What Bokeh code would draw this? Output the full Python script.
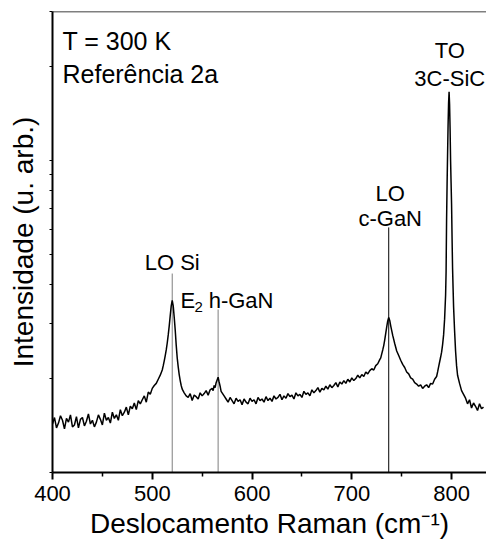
from bokeh.plotting import figure
from bokeh.models import Range1d, FixedTicker, Span
from bokeh.embed import file_html
from bokeh.resources import INLINE
from bokeh.core.properties import value

# Raman spectrum (shift in cm^-1, intensity in arbitrary units)
shift = [
    400, 402, 404, 406, 408, 410, 412, 414, 416, 418, 420, 422, 424, 426, 428,
    430, 432, 434, 436, 438, 440, 442, 444, 446, 448, 450, 452, 454, 456, 458,
    460, 462, 464, 466, 468, 470, 472, 474, 476, 478, 480, 482, 484, 486, 488,
    490, 492, 494, 496, 498, 500, 502, 504, 506, 508, 510,
    511, 512, 513, 514, 515, 516, 517, 518, 519, 520, 521, 522, 523, 524, 525,
    526, 527, 528, 529, 530,
    532, 534, 536, 538, 540, 542, 544, 546, 548, 550, 552, 554, 556, 558, 560,
    561, 562, 563, 564, 565, 566, 567, 568, 569, 570,
    572, 574, 576, 578, 580, 582, 584, 586, 588, 590, 592, 594, 596, 598, 600,
    602, 604, 606, 608, 610, 612, 614, 616, 618, 620, 622, 624, 626, 628, 630,
    632, 634, 636, 638, 640, 642, 644, 646, 648, 650, 652, 654, 656, 658, 660,
    662, 664, 666, 668, 670, 672, 674, 676, 678, 680, 682, 684, 686, 688, 690,
    692, 694, 696, 698, 700, 702, 704, 706, 708, 710, 712, 714, 716, 718, 720,
    722, 724, 726, 728,
    729, 730, 731, 732, 733, 734, 735, 736, 737, 738, 739, 740, 741, 742, 743,
    744, 745,
    747, 749, 751, 753, 755, 757, 759, 761, 763, 765, 767, 769, 771, 773, 775,
    777, 779, 781, 783, 785,
    786, 787, 788, 789, 790, 791, 792, 793, 794, 794.5, 795, 795.5, 796, 796.5,
    797, 797.5, 798, 798.5, 799, 799.5, 800, 800.5, 801, 801.5, 802, 803, 804,
    805, 806,
    808, 810, 812, 814, 816, 818, 820, 822, 824, 826, 828, 830, 832,
]
intensity = [
    1.43, 1.50, 1.39, 1.44, 1.52, 1.47, 1.38, 1.49, 1.45, 1.53, 1.40, 1.42, 1.51, 1.39, 1.48,
    1.50, 1.41, 1.46, 1.54, 1.43, 1.47, 1.40, 1.45, 1.53, 1.48, 1.42, 1.55, 1.47, 1.50, 1.44,
    1.56, 1.49, 1.53, 1.47, 1.59, 1.52, 1.56, 1.62, 1.53, 1.63, 1.60, 1.67, 1.59, 1.70, 1.66,
    1.71, 1.76, 1.68, 1.81, 1.78, 1.86, 1.90, 1.93, 1.99, 2.05, 2.13,
    2.20, 2.28, 2.37, 2.47, 2.60, 2.76, 2.95, 3.18, 3.42, 3.56, 3.42, 3.14, 2.86, 2.56, 2.33,
    2.18, 2.06, 1.97, 1.90, 1.85,
    1.80, 1.76, 1.74, 1.79, 1.70, 1.77, 1.75, 1.72, 1.80, 1.76, 1.79, 1.83, 1.77, 1.84, 1.86,
    1.83, 1.90, 1.87, 1.94, 1.98, 2.02, 1.95, 1.89, 1.82, 1.80,
    1.76, 1.72, 1.68, 1.74, 1.70, 1.66, 1.73, 1.69, 1.71, 1.65, 1.72, 1.68, 1.66, 1.73, 1.69,
    1.71, 1.66, 1.74, 1.70, 1.72, 1.68, 1.75, 1.70, 1.73, 1.69, 1.76, 1.72, 1.74, 1.78, 1.71,
    1.76, 1.73, 1.79, 1.75, 1.77, 1.72, 1.80, 1.76, 1.78, 1.74, 1.82, 1.78, 1.80, 1.76, 1.84,
    1.80, 1.83, 1.87, 1.81, 1.86, 1.84, 1.89, 1.85, 1.91, 1.87, 1.90, 1.94, 1.88, 1.95, 1.92,
    1.97, 1.93, 1.99, 1.95, 2.01, 1.97, 2.00, 2.05, 2.01, 2.06, 2.03, 2.10, 2.07, 2.12, 2.15,
    2.13, 2.20, 2.23, 2.30,
    2.33, 2.40, 2.47, 2.55, 2.66, 2.79, 2.93, 3.06, 3.14, 3.07, 2.95, 2.85, 2.75, 2.67, 2.59,
    2.52, 2.45,
    2.37, 2.29, 2.22, 2.17, 2.10, 2.07, 2.01, 1.99, 1.94, 1.92, 1.89, 1.91, 1.86, 1.89, 1.91,
    1.87, 1.93, 1.92, 1.99, 2.03,
    2.10, 2.18, 2.26, 2.34, 2.43, 2.57, 2.76, 3.10, 3.70, 4.40, 6.50, 8.40, 10.5, 13.0,
    15.3, 16.6, 15.1, 12.6, 10.0, 8.5, 7.2, 5.6, 4.5, 3.9, 3.4, 2.85, 2.45,
    2.20, 2.05,
    1.93, 1.83, 1.78, 1.73, 1.66, 1.71, 1.61, 1.67, 1.63, 1.58, 1.66, 1.60, 1.62,
]

# Reference lines for the assigned modes
mode_pos = [520, 566, 737]
mode_top = [4.34, 3.33, 6.10]
mode_color = ["#7f7f7f", "#7f7f7f", "#000000"]

x_ticks = [400, 500, 600, 700, 800]
x_minor = [450, 550, 650, 750]
y_ticks = [1, 10]
y_minor = [2, 3, 4, 5, 6, 7, 8, 9, 20, 30]

FONT = "Liberation Sans"

p = figure(
    frame_width=434, frame_height=461,
    x_range=Range1d(400, 835), y_range=Range1d(1, 30),
    y_axis_type="log",
    output_backend="svg", toolbar_location=None,
    min_border_left=52, min_border_right=0,
    min_border_top=11, min_border_bottom=69,
)
p.outline_line_color = None
p.xgrid.visible = False
p.ygrid.visible = False
p.background_fill_color = "white"
p.border_fill_color = "white"

# frame top edge
p.add_layout(Span(location=30, dimension="width", line_color="black", line_width=1.5))

p.segment(x0=mode_pos, y0=[1, 1, 1], x1=mode_pos, y1=mode_top,
          line_color=mode_color, line_width=1)
p.line(shift, intensity, line_color="black", line_width=1.5)

# x axis
xa = p.xaxis[0]
xa.ticker = FixedTicker(ticks=x_ticks, minor_ticks=x_minor)
xa.axis_line_width = 2
xa.major_tick_line_width = 2
xa.minor_tick_line_width = 1.5
xa.major_tick_out = 7
xa.major_tick_in = 0
xa.minor_tick_out = 4
xa.minor_tick_in = 0
xa.major_label_text_font = FONT
xa.major_label_text_font_size = "22px"
xa.major_label_text_color = "black"
xa.major_label_standoff = 6
xa.axis_label = "Deslocamento Raman (cm⁻¹)"
xa.axis_label_text_font = FONT
xa.axis_label_text_font_size = "28px"
xa.axis_label_text_font_style = "normal"
xa.axis_label_text_color = "black"
xa.axis_label_standoff = 4

# y axis (log, unlabelled ticks)
ya = p.yaxis[0]
ya.ticker = FixedTicker(ticks=y_ticks, minor_ticks=y_minor)
ya.axis_line_width = 2
ya.major_tick_out = 3
ya.major_tick_in = 0
ya.minor_tick_out = 3
ya.minor_tick_in = 0
ya.major_label_text_font_size = "1px"
ya.major_label_text_alpha = 0
ya.major_label_standoff = 0
ya.axis_label = "Intensidade (u. arb.)"
ya.axis_label_text_font = FONT
ya.axis_label_text_font_size = "28px"
ya.axis_label_text_font_style = "normal"
ya.axis_label_text_color = "black"
ya.axis_label_standoff = 11


def note(x, y, s, size="22px", align="center"):
    p.text(x=[x], y=[y], text=[s], text_font=value(FONT), text_font_size=size,
           text_align=align, text_baseline="alphabetic", text_color="black")


note(410, 24.1, "T = 300 K", size="25px", align="left")
note(410, 18.9, "Referência 2a", size="25px", align="left")
note(520, 4.71, "LO Si")
note(528.4, 3.56, "E", align="left")
note(542.4, 3.38, "2", size="15px", align="left")
note(556.5, 3.56, "h-GaN", align="left")
note(738.5, 7.84, "LO")
note(738.5, 6.52, "c-GaN")
note(798.2, 22.5, "TO")
note(798.2, 18.3, "3C-SiC")

open("out.html", "w").write(file_html(p, INLINE))
